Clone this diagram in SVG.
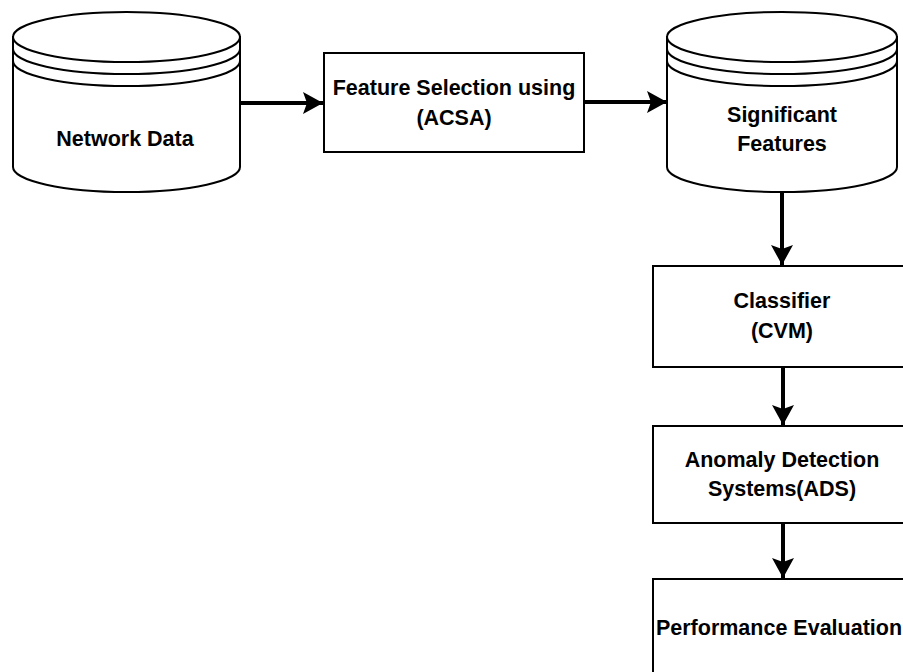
<svg xmlns="http://www.w3.org/2000/svg" width="903" height="672" viewBox="0 0 903 672">
<style>
.shape{fill:#fff;stroke:#000;stroke-width:2}
.line{fill:none;stroke:#000;stroke-width:2}
.conn{fill:none;stroke:#000;stroke-width:4}
text{font-family:"Liberation Sans",Arial,sans-serif;font-weight:bold;font-size:21.5px;fill:#000;text-anchor:middle}
</style>
<defs>
<marker id="arr" markerUnits="userSpaceOnUse" markerWidth="22" markerHeight="24" viewBox="0 0 22 24" refX="20" refY="12" orient="auto">
<path d="M0,1 L20,12 L0,23 L4,12 Z" fill="#000"/>
</marker>
</defs>
<rect width="903" height="672" fill="#fff"/>
<g id="network-data">
<path class="shape" d="M13,37 L13,167 A113.5,25 0 0 0 240,167 L240,37 Z"/>
<ellipse class="shape" cx="126.5" cy="37" rx="113.5" ry="25"/>
<path class="line" d="M13,49 A113.5,25 0 0 0 240,49 M13,61 A113.5,25 0 0 0 240,61"/>
<text x="125" y="146">Network Data</text>
</g>
<g id="feature-selection">
<rect class="shape" x="324" y="53" width="260" height="99"/>
<text x="454" y="95">Feature Selection using</text>
<text x="454" y="125">(ACSA)</text>
</g>
<g id="significant-features">
<path class="shape" d="M667,37 L667,167 A115,25 0 0 0 897,167 L897,37 Z"/>
<ellipse class="shape" cx="782" cy="37" rx="115" ry="25"/>
<path class="line" d="M667,49 A115,25 0 0 0 897,49 M667,61 A115,25 0 0 0 897,61"/>
<text x="782" y="122">Significant</text>
<text x="782" y="151">Features</text>
</g>
<g id="classifier">
<rect class="shape" x="653" y="266" width="259" height="101"/>
<text x="782" y="308">Classifier</text>
<text x="782" y="338">(CVM)</text>
</g>
<g id="ads">
<rect class="shape" x="653" y="426" width="259" height="97"/>
<text x="782" y="467">Anomaly Detection</text>
<text x="782" y="496">Systems(ADS)</text>
</g>
<g id="performance-evaluation">
<rect class="shape" x="653" y="579" width="259" height="110"/>
<text x="779" y="635">Performance Evaluation</text>
</g>
<g id="connectors">
<line class="conn" x1="240" y1="103" x2="323" y2="103" marker-end="url(#arr)"/>
<line class="conn" x1="584" y1="102" x2="667" y2="102" marker-end="url(#arr)"/>
<line class="conn" x1="782" y1="192" x2="782" y2="265" marker-end="url(#arr)"/>
<line class="conn" x1="783" y1="367" x2="783" y2="425" marker-end="url(#arr)"/>
<line class="conn" x1="783" y1="523" x2="783" y2="578" marker-end="url(#arr)"/>
</g>
</svg>
